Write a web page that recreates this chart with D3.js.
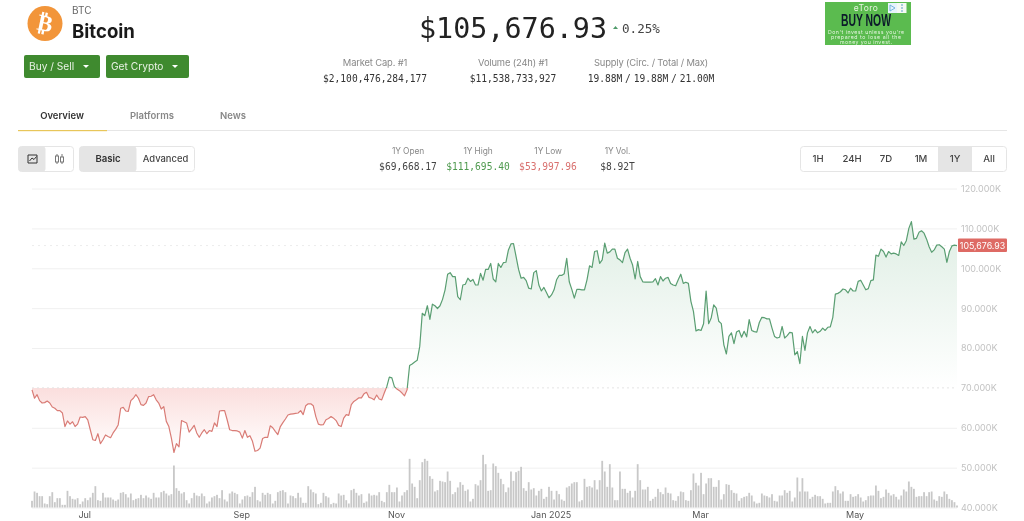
<!DOCTYPE html>
<html><head><meta charset="utf-8">
<script src="https://cdn.jsdelivr.net/npm/d3@7/dist/d3.min.js"></script>
<style>html,body{margin:0;padding:0;background:#fff;overflow:hidden}svg{display:block;filter:blur(.3px)}</style>
</head><body><svg id="c" width="1024" height="521"></svg>
<script>
// daily close, $ thousands, 2024-06-10 onward
const pricesThousands = [
69.5,67.4,68.3,66.8,66.2,66.3,66.7,66.2,65.2,64.9,
64.3,64.3,63.7,60.3,61.7,60.9,61.5,60.3,60.9,62.7,62.6,
62.8,62,59.5,57,56.8,58.5,56,57,58.2,57.8,
57.5,58.7,59.6,60.7,64.9,65.1,64.2,64.1,66.8,67.4,68.3,
67.4,65.8,65.6,66.2,67.8,67.9,68.3,67,66.2,64.7,
65.3,61.6,60.3,57.4,53.8,56,55.2,61.8,61.5,61.2,
58.9,59.7,60.6,58.7,57.6,58.7,59.5,58.5,59.3,59.1,
61.2,60.3,64.2,64.3,64.3,62,59.5,59.3,59.3,59.2,
58.9,57.4,59.3,57.6,58,56.6,54.1,54.3,54.9,57.3,
57.6,57.6,60.5,60,59.1,58.3,60.3,61.3,62.2,63.2,63.4,
63.5,63.6,63.7,64.3,63.3,65.5,66,66,65.5,62.8,
60.9,60.7,60.8,62,62.3,62.8,62.4,61.8,60.6,60.3,
62.4,63.3,63.1,65.8,66.6,67,67.5,67.5,
68.5,68.9,67.6,67.4,67,68.2,67.2,67,68.7,70.3,
72.7,72.5,70.3,69.7,69.3,68.7,68,69.5,75.6,76,
76.5,76.9,80.4,88.7,88.1,90.6,87.2,91,90.6,89.9,
90.6,92.2,94.6,98.5,98.9,97.9,97.9,92.9,92.1,95.8,
96,97.5,96.7,97.2,95.8,95.8,98.7,97,99.7,99.7,
101.2,97.3,96.6,101.2,100.2,101.4,101.5,104.6,106.1,106.2,103,
99.7,97.5,97.7,96.9,95,94.8,98.9,99.4,95.8,94.3,
95.2,93.9,92.6,93.3,94.6,97.1,98.2,98.2,98.6,102.5,
96.6,94.7,92.5,94.7,94.7,94.6,94.6,97.1,100.6,100.2,
104.2,104.4,101.2,102.1,106.3,103.8,104.1,104.8,104.8,102.5,
102.1,101.4,103.9,104.8,102.5,100.8,97.3,101.7,97.9,96.6,
96.5,96.5,96.5,96.6,97.4,95.8,97.9,96.8,97.5,97.7,
96.2,95.8,95.6,97.1,98.5,96.2,96.5,96.2,
91.7,89.2,84.3,84.6,84.4,86.1,94.3,86.1,87.5,90.8,
90,86.7,86.1,80.8,78.5,82.9,83.8,81.1,84,84.4,
82.7,84.2,82.8,87.1,84.4,84.1,84,86.4,87.7,87.6,
87.3,87.3,85,82.9,82.5,82.7,85.4,82.5,83.1,83.9,
83.8,78.3,79.1,76.1,82.9,79.4,83.8,85.4,83.8,84.6,
83.8,84.2,85,84.4,85.2,85.3,87.7,93.5,93.7,94.1,
94.8,94.6,93.8,95,94.3,94.3,96.7,97,95.8,94.6,
94.9,96.9,97.1,103.3,103,104.8,104.2,102.8,104.2,103.6,
103.8,103.6,103.2,106.6,105.7,106.9,110,111.7,107.3,107.5,
109,109.4,108.8,107.3,105.4,104,104.6,105.8,105.9,105.4,
104.8,101.5,104.2,105.6,105.8,105.68];
// daily volume, in units of $0.5B
const volumes = [
20,48,44,34,34,12,10,34,46,16,28,28,8,8,50,34,26,24,28,10,
18,28,22,30,44,64,22,20,44,30,30,30,24,20,24,44,46,40,30,42,
22,26,28,38,28,36,30,26,44,30,30,46,50,42,36,40,126,58,50,42,46,22,12,28,44,36,34,
42,34,12,18,30,34,38,28,52,24,18,42,48,44,40,12,24,34,36,32,
46,62,22,18,44,38,44,40,12,20,46,50,52,46,12,36,34,28,44,30,
14,14,64,54,46,42,10,14,44,34,30,10,14,12,42,36,38,22,12,
52,56,44,36,40,14,18,42,36,38,36,46,20,16,46,68,46,46,60,18,
36,46,52,146,72,62,28,82,136,146,140,94,86,48,52,80,78,76,108,80,
40,46,60,76,68,50,54,18,26,70,66,82,158,130,50,52,132,124,104,86,
70,46,60,108,80,106,110,122,58,50,76,54,58,36,50,56,26,32,62,50,
24,50,40,24,20,60,64,72,76,76,18,22,86,62,64,60,82,54,82,140,
108,62,130,60,22,22,108,56,56,44,50,30,50,130,82,54,54,62,20,26,
32,56,46,40,60,44,42,22,20,34,48,46,
22,20,52,102,74,66,104,40,72,88,88,62,62,82,24,40,70,68,52,44,
42,20,28,32,34,44,36,18,12,14,42,36,34,30,40,20,18,36,36,52,
44,50,18,30,90,48,88,48,48,26,32,38,34,34,26,12,14,14,48,64,
52,42,48,20,20,40,32,34,40,30,18,22,34,36,36,66,50,28,32,54,
44,36,40,32,24,36,54,48,78,62,56,32,34,34,46,34,46,48,24,20,
34,32,48,40,26,22,16,6];
const yTicks = [120,110,100,90,80,70,60,50,40];
const xTickDates = ["2024-07-01","2024-09-01","2024-11-01","2025-01-01","2025-03-01","2025-05-01"];
const xTickLabels = ["Jul","Sep","Nov","Jan 2025","Mar","May"];
const openPrice = 70, lastPrice = 105.68;
const topStats = [["Market Cap. #1","$2,100,476,284,177",375],["Volume (24h) #1","$11,538,733,927",513],["Supply (Circ. / Total / Max)","19.88M / 19.88M / 21.00M",651]];
const rangeStats = [["1Y Open","$69,668.17",408,"#444"],["1Y High","$111,695.40",478,"#4f9a4f"],["1Y Low","$53,997.96",548,"#d9706e"],["1Y Vol.","$8.92T",617.5,"#444"]];
const tabs = [["Overview",62,"#333"],["Platforms",152,"#888"],["News",233,"#888"]];
const ranges = [["1H",818],["24H",852],["7D",886],["1M",921],["1Y",955],["All",989]];
const adLines = [["Don't invest unless you're",76],["prepared to lose all the",70],["money you invest.",52]];

const SANS = "Inter, 'Noto Sans', sans-serif", MONO = "'DejaVu Sans Mono', monospace";
const svg = d3.select("#c");
const start = new Date(2024,5,10);
const dates = pricesThousands.map((_,i)=>d3.timeDay.offset(start,i));
const x = d3.scaleTime().domain([start,dates[dates.length-1]]).range([32,957]);
const y = d3.scaleLinear().domain([40,120]).range([507.5,188.5]);
const v = d3.scaleLinear().domain([0,150]).range([507.5,457.5]);
const txt = (t,px,py,size,fill,opt={})=>svg.append("text").attr("x",px).attr("y",py).attr("font-size",size).attr("fill",fill)
  .attr("font-family",opt.font||SANS).attr("font-weight",opt.weight||400).attr("text-anchor",opt.anchor||"start")
  .attr("letter-spacing",opt.ls||null).attr("word-spacing",opt.ws||null).text(t);
const box = (px,py,w,h,fill,opt={})=>svg.append("rect").attr("x",px).attr("y",py).attr("width",w).attr("height",h).attr("fill",fill)
  .attr("rx",opt.rx||0).attr("stroke",opt.stroke||"none");

// header
svg.append("circle").attr("cx",45).attr("cy",23.5).attr("r",17.5).attr("fill","#f2953a");
txt("₿",45,31,23,"#fff",{anchor:"middle",weight:700,font:"'DejaVu Sans'"}).attr("transform","rotate(12 45 24)");
txt("BTC",72,14,10,"#666");
txt("Bitcoin",72,38,18.6,"#1a1a1a",{weight:700});
[[24,76,"Buy / Sell"],[106,83,"Get Crypto"]].forEach(([bx,w,t])=>{
  box(bx,55,w,23,"#3f8a2f",{rx:2});
  txt(t,bx+5,70,10.2,"#e9f2e5");
  const c=bx+w-14;
  svg.append("path").attr("d",`M${c-3} 65L${c+3} 65L${c} 68Z`).attr("fill","#fff");
});
txt("$105,676.93",513,38,28.4,"#222",{anchor:"middle",font:MONO});
svg.append("path").attr("d","M613 29L618 29L615.5 26Z").attr("fill","#4f9a6a");
txt("0.25%",622,33,12.6,"#444",{font:MONO});
topStats.forEach(([a,b,c],i)=>{txt(a,c,66,9.4,"#888",{anchor:"middle",ls:-.15});txt(b,c,82,9.6,"#333",{anchor:"middle",font:MONO,ws:i==2?-3:null});});

// ad
box(825,2,86,43,"#5bbb4f");
txt("eToro",866,10.5,8.5,"#e8f5e2",{anchor:"middle",ls:.4});
box(888,3,9,10,"#e6f3fb"); box(897,3,9.5,10,"#f4f9f4");
svg.append("path").attr("d","M890 5L895 8L890 11Z").attr("fill","none").attr("stroke","#5aa5d8").attr("stroke-width",.8);
[5,8,11].forEach(cy=>svg.append("circle").attr("cx",902).attr("cy",cy).attr("r",.8).attr("fill","#4a90c0"));
txt("BUY NOW",866,25.5,16,"#0c1b2a",{anchor:"middle",weight:700,font:"'Liberation Sans Narrow','Liberation Sans'"}).attr("textLength",50).attr("lengthAdjust","spacingAndGlyphs");
adLines.forEach(([t,w],i)=>txt(t,866,33.5+i*5.3,5.2,"#e6f5e0",{anchor:"middle"}).attr("textLength",w));

// tabs
tabs.forEach(([t,c,f])=>txt(t,c,119,9.5,f,{anchor:"middle",weight:600}));
box(18,130,989,1,"#e6e6e6"); box(18,130,89,1.2,"#e8c65a");

// toolbar
box(18.5,146.5,55,25,"#fff",{rx:3,stroke:"#e5e5e5"}); box(18.5,146.5,27,25,"#e5e5e5",{rx:3});
svg.append("path").attr("d","M28 155h9v8h-9zM29.5 161l2.5-3 2 1.5 2.5-3").attr("fill","none").attr("stroke","#333").attr("stroke-width",1);
svg.append("path").attr("d","M57 154v10M62 154v10").attr("stroke","#777").attr("stroke-width",1);
box(55.5,156,3,6,"#fff",{stroke:"#777"}); box(60.5,157,3,5,"#fff",{stroke:"#777"});
box(79.5,146.5,115,25,"#fff",{rx:3,stroke:"#e5e5e5"}); box(79.5,146.5,57,25,"#e5e5e5",{rx:3});
txt("Basic",108,162,9.6,"#333",{anchor:"middle",weight:600});
txt("Advanced",165.5,162,9.4,"#444",{anchor:"middle",weight:500});
rangeStats.forEach(([a,b,c,f])=>{txt(a,c,154,8.4,"#888",{anchor:"middle",ls:-.1});txt(b,c,170,9.6,f,{anchor:"middle",font:MONO});});
box(800.5,146.5,206,25,"#fff",{rx:3,stroke:"#e5e5e5"}); box(938,147,34,24,"#e5e5e5");
ranges.forEach(([t,c])=>txt(t,c,162,9.6,"#444",{anchor:"middle",weight:500}));

// plot
const defs = svg.append("defs");
const grad = (id,y1,y2,c1,c2)=>{const g=defs.append("linearGradient").attr("id",id).attr("gradientUnits","userSpaceOnUse").attr("x1",0).attr("x2",0).attr("y1",y1).attr("y2",y2);
  g.append("stop").attr("offset",0).attr("stop-color",c1);g.append("stop").attr("offset",1).attr("stop-color",c2);};
grad("gUp",y(112),y(openPrice),"#dfeee4","#ffffff");
grad("gDn",y(openPrice),y(53.5),"#fbdedd","#ffffff");
const clip=(id,py,h)=>defs.append("clipPath").attr("id",id).append("rect").attr("x",0).attr("y",py).attr("width",1024).attr("height",h);
clip("cUp",0,y(openPrice)); clip("cDn",y(openPrice),521-y(openPrice));

// grid and right axis
const yAxis = d3.axisRight(y).tickValues(yTicks).tickSize(0).tickPadding(4).tickFormat(d=>d3.format(".3f")(d)+"K");
const gy = svg.append("g").attr("transform","translate(957,0)").call(yAxis);
gy.select(".domain").remove();
gy.selectAll("text").attr("font-size",9).attr("fill","#c2c2c2").attr("font-family",SANS);
svg.append("g").selectAll("line").data(yTicks.filter(d=>d!==openPrice)).join("line")
  .attr("x1",32).attr("x2",957).attr("y1",d=>y(d)+.5).attr("y2",d=>y(d)+.5).attr("stroke","#f0f0f0");

const idx = dates.map((_,i)=>i);
const area = d3.area().x(i=>x(dates[i])).y0(y(openPrice)).y1(i=>y(pricesThousands[i]));
const line = d3.line().x(i=>x(dates[i])).y(i=>y(pricesThousands[i]));
svg.append("path").attr("d",area(idx)).attr("fill","url(#gUp)").attr("clip-path","url(#cUp)");
svg.append("path").attr("d",area(idx)).attr("fill","url(#gDn)").attr("clip-path","url(#cDn)");
svg.append("line").attr("x1",32).attr("x2",957).attr("y1",y(openPrice)).attr("y2",y(openPrice)).attr("stroke","#e4e4e4").attr("stroke-dasharray","2 3");
svg.append("line").attr("x1",32).attr("x2",957).attr("y1",y(lastPrice)).attr("y2",y(lastPrice)).attr("stroke","#ececec").attr("stroke-dasharray","2 4");

// volume
svg.append("g").selectAll("rect").data(volumes).join("rect")
  .attr("x",(d,i)=>x(d3.timeDay.offset(start,i))-.9).attr("width",1.8)
  .attr("y",d=>v(d)).attr("height",d=>v(0)-v(d)).attr("fill","#c8c8c8");

svg.append("path").attr("d",line(idx)).attr("fill","none").attr("stroke","#5a9e72").attr("stroke-width",1.2).attr("stroke-linejoin","round").attr("clip-path","url(#cUp)");
svg.append("path").attr("d",line(idx)).attr("fill","none").attr("stroke","#d97c76").attr("stroke-width",1.2).attr("stroke-linejoin","round").attr("clip-path","url(#cDn)");

// x axis
const parse = d3.timeParse("%Y-%m-%d");
const xAxis = d3.axisBottom(x).tickValues(xTickDates.map(parse)).tickSize(0).tickPadding(4)
  .tickFormat((d,i)=>xTickLabels[i]);
const gx = svg.append("g").attr("transform","translate(-1,507.5)").call(xAxis);
gx.select(".domain").remove();
gx.selectAll("text").attr("font-size",9).attr("fill","#555").attr("font-family",SANS);

// last price tag
box(958,238.5,49,13.5,"#de6a64",{rx:1});
txt("105,676.93",982.5,248.8,8.8,"#fff",{anchor:"middle"});
</script></body></html>
